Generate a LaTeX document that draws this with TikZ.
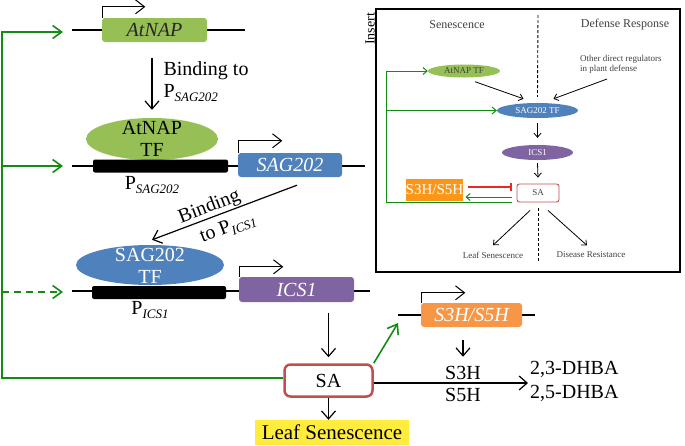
\documentclass[tikz,border=0pt]{standalone}
\usepackage{fontspec}
\setmainfont{Liberation Serif}
\usepackage{tikz}
\usetikzlibrary{arrows.meta}
\usetikzlibrary{shapes.geometric}

\definecolor{natgreen}{RGB}{150,192,85}
\definecolor{sagblue}{RGB}{79,129,189}
\definecolor{icspurple}{RGB}{128,100,162}
\definecolor{saorange}{RGB}{247,150,70}
\definecolor{insorange}{RGB}{252,150,25}
\definecolor{sared}{RGB}{192,80,77}
\definecolor{inhred}{RGB}{235,40,40}
\definecolor{fbgreen}{RGB}{20,140,20}
\definecolor{hlyellow}{RGB}{255,236,60}

\newcommand{\bigtxt}{\fontsize{20}{22}\selectfont}
\newcommand{\psub}[1]{P\raisebox{-4pt}{\fontsize{13}{13}\selectfont\itshape #1}}

\begin{document}
\begin{tikzpicture}[x=1pt,y=-1pt,font=\bigtxt,
  gene/.style={rectangle,rounded corners=3pt,inner sep=1pt,text=white,font=\bigtxt\itshape},
  promoter/.style={fill=black,rounded corners=2pt,inner sep=0pt},
  tfoval/.style={ellipse,inner sep=0pt},
  dna/.style={line width=1.2pt},
  arr/.style={line width=1.2pt,-{Straight Barb[length=8pt,width=14pt]}},
  tss/.style={line width=1pt,-{Straight Barb[length=9pt,width=14pt]}},
  fb/.style={fbgreen,line width=1.6pt,-{Straight Barb[length=9pt,width=13pt]}},
  inshead/.style={font=\fontsize{12}{13}\selectfont,text=black!75},
  insfont/.style={font=\fontsize{9}{10}\selectfont,text=black!75},
  insarr/.style={line width=0.8pt,-{Straight Barb[length=4pt,width=7pt]}},
  insfb/.style={fbgreen,line width=1pt,-{Straight Barb[length=4pt,width=7pt]}},
  insdash/.style={line width=0.9pt,dash pattern=on 3pt off 2pt}]
\useasboundingbox (0,0) rectangle (685,445);

% AtNAP gene
\draw[dna] (72,30) -- (245,30);
\node[gene,fill=natgreen,text=black!85,minimum width=105,minimum height=24] (atnap) at (154.5,30) {AtNAP};
\draw[tss] ([xshift=.5pt]atnap.north west) |- ++(43,-11);

% SAG202 gene with AtNAP TF on its promoter
\draw[dna] (72,166) -- (365,166);
\node[tfoval,fill=natgreen,minimum width=132,minimum height=42] (atnapTF) at (152,139) {};
\node[promoter,minimum width=135,minimum height=13] (pSag) at (160.5,166) {};
\node[align=center,inner sep=0pt] (atnapTFtxt) at (152,139) {AtNAP\\TF};
\node[gene,fill=sagblue,minimum width=104,minimum height=24] (sag) at (290,165) {SAG202};
\draw[tss] ([xshift=.5pt]sag.north west) |- ++(44,-12);
\node (pSagLbl) at (152,185) {\psub{SAG202}};

\draw[arr] ([yshift=-16pt]atnap.south -| atnapTF.north) -- ([yshift=8pt]atnapTF.north);
\node[anchor=west,align=left] (bind1) at (160,82) {Binding to\\\psub{SAG202}};

% ICS1 gene with SAG202 TF on its promoter
\draw[dna] (72,291) -- (370,291);
\node[tfoval,fill=sagblue,minimum width=148,minimum height=40] (sagTF) at (150,265) {};
\node[promoter,minimum width=134,minimum height=13] (pIcs) at (159,292.5) {};
\node[align=center,inner sep=0pt,text=white] (sagTFtxt) at (150,266) {SAG202\\TF};
\node[gene,fill=icspurple,minimum width=115,minimum height=25] (ics) at (296.5,289.5) {ICS1};
\draw[tss] ([xshift=.5pt]ics.north west) |- ++(44,-10);
\node (pIcsLbl) at (150,310) {\psub{ICS1}};

\draw[arr] ([shift={(7,8)}]sag.south) -- ([shift={(2,-5)}]sagTF.north);
\node[rotate=21,align=left,inner sep=0pt,font=\fontsize{20}{26}\selectfont] (bind2) at (217,218) {Binding\\\hspace*{13pt}to \psub{ICS1}};

% SA and products
\node[draw=sared,line width=2.5pt,rounded corners=6pt,fill=white,minimum width=88,minimum height=32] (sa) at (328.5,380.5) {SA};
\draw[arr] ([yshift=-11pt]ics.south -| sa.north) -- ([yshift=6pt]sa.north);
\node[fill=hlyellow,inner sep=2pt,minimum width=154,minimum height=25,font=\fontsize{21}{22}\selectfont] (leaf) at (332,432.5) {Leaf Senescence};
\draw[arr] (sa.south) -- (sa.south |- leaf.north);

\draw[dna] (398,315) -- (535,315);
\node[gene,fill=saorange,minimum width=101,minimum height=24] (s3h) at (471.5,315) {S3H/S5H};
\draw[tss] ([xshift=.5pt]s3h.north west) |- ++(44,-10);
\coordinate (s3hIn) at (398,323);
\draw[fb] (sa.north east) -- (s3hIn);

\node (s3hLbl) at (463,373) {S3H};
\node (s5hLbl) at (463,395) {S5H};
\draw[arr] ([yshift=-13pt]s3h.south -| s3hLbl.north) -- ([yshift=6pt]s3hLbl.north);
\node[anchor=west,inner sep=2pt] (dhba23) at (528,369) {2,3-DHBA};
\node[anchor=west,inner sep=2pt] (dhba25) at (528,393) {2,5-DHBA};
\draw[arr] ([yshift=-2.5pt]sa.east) -- ([yshift=-2.5pt]sa.east -| dhba23.west);

% feedback from SA
\coordinate (fbTop) at (2,32);
\coordinate (atnapIn) at (63,32);
\coordinate (sagIn) at (63,166);
\coordinate (icsIn) at (63,292);
\draw[fb] ([yshift=2.5pt]sa.west) -| (fbTop) -- (atnapIn);
\draw[fb] (fbTop |- sagIn) -- (sagIn);
\draw[fb,dash pattern=on 7pt off 5pt] (fbTop |- icsIn) -- (icsIn);

% insert
\node[draw,line width=1.3pt,minimum width=304,minimum height=263,inner sep=0pt] (insbox) at (528,140.5) {};
\node[rotate=90,font=\fontsize{14}{14}\selectfont,inner sep=0pt] (insLbl) at (370,29) {Insert};
\node[inshead] (insSen) at (457,25) {Senescence};
\node[inshead] (insDef) at (625,25) {Defense Response};
\node[insfont,align=left,anchor=west,inner sep=0pt] (insOther) at (580,64.5) {Other direct regulators\\in plant defense};

\node[tfoval,fill=natgreen,minimum width=72,minimum height=13,insfont] (insAtnap) at (464,71) {AtNAP TF};
\node[tfoval,fill=sagblue,minimum width=81,minimum height=15,insfont,text=white] (insSag) at (537.5,110.5) {SAG202 TF};
\node[tfoval,fill=icspurple,minimum width=71,minimum height=15,insfont,text=white] (insIcs) at (537.5,152.5) {ICS1};
\node[draw=sared,line width=0.9pt,rounded corners=2.5pt,minimum width=42,minimum height=18,inner sep=0pt,insfont] (insSa) at (538,193) {SA};
\node[insfont] (insLeaf) at (493,255) {Leaf Senescence};
\node[insfont] (insDis) at (591,255) {Disease Resistance};

\coordinate (divTop) at (538,15);
\coordinate (divBot) at (538,263);
\draw[insdash] (divTop) -- ([yshift=6pt]insSag.north);
\draw[insdash] ([yshift=-6pt]insSa.south) -- (divBot);

\draw[insarr] ([shift={(11,4)}]insAtnap.south) -- ([shift={(-14,-4)}]insSag.north);
\draw[insarr] ([shift={(27,14.5)}]insOther.west) -- ([shift={(16,-4)}]insSag.north);
\draw[insarr] ([yshift=-5pt]insSag.south) -- ([yshift=7pt]insIcs.north);
\draw[insarr] ([yshift=-3pt]insIcs.south) -- ([yshift=6pt]insSa.north);
\draw[insarr] ([shift={(-8,8)}]insSa.south) -- ([yshift=3pt]insLeaf.north);
\draw[insarr] ([shift={(10,8)}]insSa.south) -- ([shift={(-4,-3)}]insDis.north);

\coordinate (insFbX) at ([xshift=-41pt]insAtnap.west);
\draw[insfb] ([shift={(-5,9)}]insSa.west) -| (insFbX) -- (insAtnap.west);
\draw[insfb] (insFbX |- insSag.west) -- (insSag.west);
\node[fill=insorange,text=white,minimum width=57,minimum height=22,inner sep=0pt,font=\fontsize{15}{15}\selectfont] (insS3h) at (434.5,190) {S3H/S5H};
\draw[inhred,line width=1.1pt,-{Bar[width=8pt]}] ([shift={(5,-3)}]insS3h.east) -- ([shift={(-5,-6)}]insSa.west);
\draw[insfb] ([shift={(-5,4)}]insSa.west) -- ([shift={(2,7)}]insS3h.east);
\end{tikzpicture}
\end{document}
